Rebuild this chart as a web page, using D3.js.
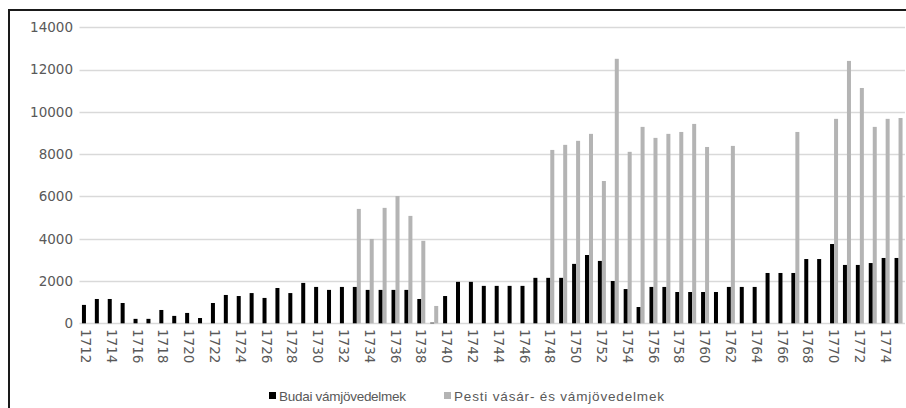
<!DOCTYPE html>
<html>
<head>
<meta charset="utf-8">
<script src="https://cdn.jsdelivr.net/npm/d3@7"></script>
<style>
  body { margin: 0; background: #fff; }
  svg { display: block; font-family: "Liberation Sans", Arial, sans-serif; }
</style>
</head>
<body>
<svg width="906" height="408"></svg>
<script>
// years shown on the x axis
const years = d3.range(1712, 1776);

// Budai vámjövedelmek (black)
const budai = [870, 1150, 1150, 960, 210, 210, 630, 350, 490, 250,
  960, 1340, 1290, 1430, 1200, 1670, 1430, 1910, 1720, 1580,
  1720, 1720, 1580, 1580, 1580, 1580, 1150, 30, 1290, 1960,
  1960, 1770, 1770, 1770, 1770, 2150, 2150, 2150, 2810, 3230,
  2950, 2000, 1620, 770, 1720, 1720, 1480, 1480, 1480, 1480,
  1720, 1720, 1720, 2380, 2380, 2380, 3040, 3040, 3750, 2760,
  2760, 2850, 3090, 3090];

// Pesti vásár- és vámjövedelmek (gray), null = no value
const pesti = [null, null, null, null, null, null, null, null, null, null,
  null, null, null, null, null, null, null, null, null, null,
  null, 5410, 3990, 5460, 6020, 5080, 3900, 820, null, null,
  null, null, null, null, null, null, 8200, 8440, 8630, 8960,
  6730, 12510, 8110, 9290, 8770, 8960, 9050, 9430, 8340, null,
  8390, null, null, null, null, 9050, null, null, 9670, 12410,
  11130, 9290, 9670, 9710];

const yTicks = [0, 2000, 4000, 6000, 8000, 10000, 12000, 14000];
const seriesNames = ["Budai vámjövedelmek", "Pesti vásár- és vámjövedelmek"];
const seriesColors = ["#000000", "#b4b4b4"];

const svg = d3.select("svg");

const PLOT_LEFT = 79.5;
const PLOT_RIGHT = 905;
const PLOT_TOP = 27.3;
const PLOT_BOTTOM = 323.3;
const AXIS_COLOR = "#595959";
const AXIS_FONT = "'DejaVu Sans', sans-serif";

// outer chart border (only top and left edges fall inside the picture)
svg.append("rect")
  .attr("x", 9)
  .attr("y", 10)
  .attr("width", 1000)
  .attr("height", 1000)
  .attr("fill", "none")
  .attr("stroke", "#1a1a1a")
  .attr("stroke-width", 2);

const x = d3.scaleBand()
  .domain(years)
  .range([PLOT_LEFT, PLOT_RIGHT])
  .paddingInner(0.38)
  .paddingOuter(0.19);

const xSub = d3.scaleBand()
  .domain([0, 1])
  .range([0, x.bandwidth()]);

const y = d3.scaleLinear()
  .domain([0, 14000])
  .range([PLOT_BOTTOM, PLOT_TOP]);

// gridlines
svg.append("g")
  .selectAll("line")
  .data(yTicks)
  .join("line")
  .attr("x1", PLOT_LEFT)
  .attr("x2", PLOT_RIGHT)
  .attr("y1", d => Math.round(y(d)) + 0.5)
  .attr("y2", d => Math.round(y(d)) + 0.5)
  .attr("stroke", "#d9d9d9")
  .attr("stroke-width", 1.3);

// y axis labels
svg.append("g")
  .selectAll("text")
  .data(yTicks)
  .join("text")
  .attr("x", 73)
  .attr("y", d => y(d))
  .attr("dy", "0.36em")
  .attr("text-anchor", "end")
  .attr("font-family", AXIS_FONT)
  .attr("font-size", 13.5)
  .attr("fill", AXIS_COLOR)
  .text(d => d);

// bars
const series = [budai, pesti];
series.forEach((values, s) => {
  svg.append("g")
    .selectAll("rect")
    .data(years.map((yr, i) => ({ yr, v: values[i] })).filter(d => d.v != null))
    .join("rect")
    .attr("x", d => x(d.yr) + xSub(s))
    .attr("width", xSub.bandwidth())
    .attr("y", d => y(d.v))
    .attr("height", d => y(0) - y(d.v))
    .attr("fill", seriesColors[s]);
});

// x axis labels, every other year, rotated
svg.append("g")
  .selectAll("text")
  .data(years.filter(yr => (yr - 1712) % 2 === 0))
  .join("text")
  .attr("transform", d => `translate(${x(d) + x.bandwidth() / 2},329) rotate(90)`)
  .attr("dy", "0.36em")
  .attr("text-anchor", "start")
  .attr("font-family", AXIS_FONT)
  .attr("font-size", 13.5)
  .attr("fill", AXIS_COLOR)
  .text(d => d);

// legend
const legendItems = [
  { name: seriesNames[0], color: seriesColors[0], x: 269, len: 127 },
  { name: seriesNames[1], color: seriesColors[1], x: 444, len: 210 }
];
const legend = svg.append("g");
legendItems.forEach(item => {
  legend.append("rect")
    .attr("x", item.x)
    .attr("y", 392)
    .attr("width", 7)
    .attr("height", 7)
    .attr("fill", item.color);
  legend.append("text")
    .attr("x", item.x + 10)
    .attr("y", 396)
    .attr("dy", "0.35em")
    .attr("font-size", 13.5)
    .attr("fill", AXIS_COLOR)
    .attr("textLength", item.len)
    .attr("lengthAdjust", "spacing")
    .text(item.name);
});
</script>
</body>
</html>
